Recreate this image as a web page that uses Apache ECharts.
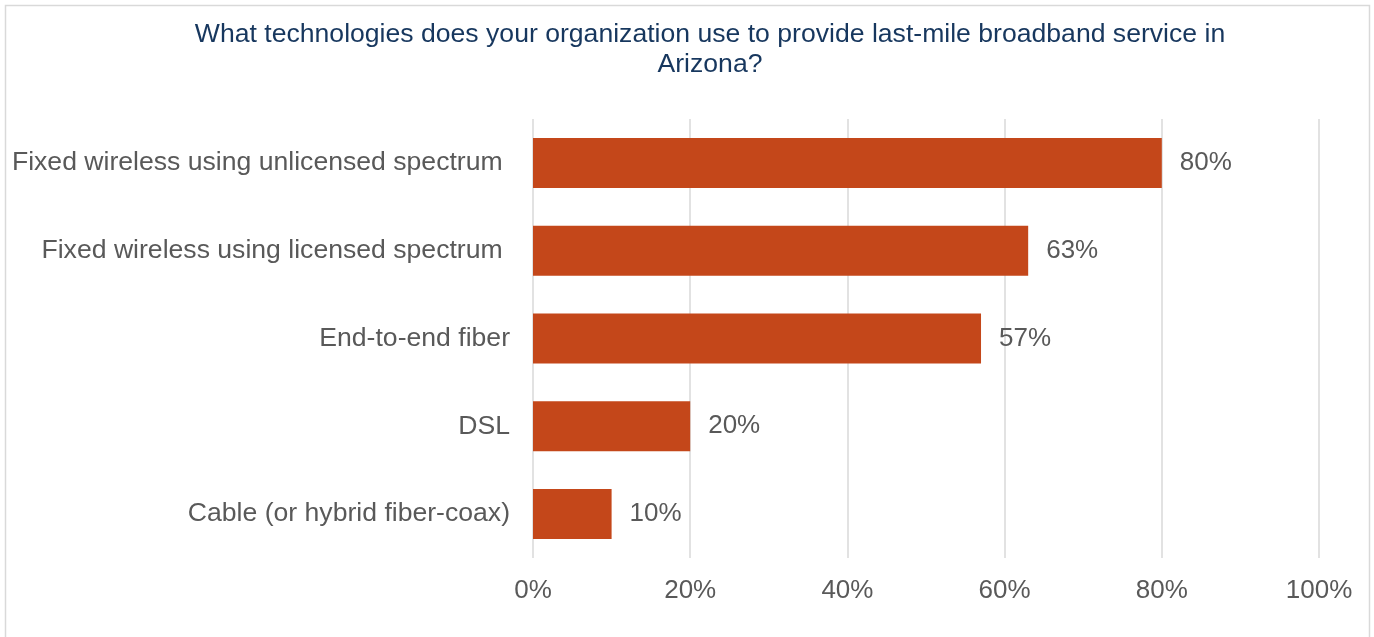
<!DOCTYPE html>
<html>
<head>
<meta charset="utf-8">
<style>
  html, body { margin: 0; padding: 0; background: #ffffff; }
  #chart { width: 1374px; height: 637px; }
</style>
<script src="https://cdn.jsdelivr.net/npm/echarts@6/dist/echarts.min.js"></script>
</head>
<body>
<div id="chart"></div>
<script>
// Technologies, listed bottom-to-top as the category axis draws them
const categories = [
  'Cable (or hybrid fiber-coax)',
  'DSL',
  'End-to-end fiber',
  'Fixed wireless using licensed spectrum ',
  'Fixed wireless using unlicensed spectrum '
];
// Share of respondents using each technology (%)
const shares = [10, 20, 57, 63, 80];
// Value axis ticks (%)
const tickValues = [0, 20, 40, 60, 80, 100];

const titleText = 'What technologies does your organization use to provide last-mile broadband service in\nArizona?';
const FONT = '"Liberation Sans", Arial, sans-serif';
const GREY = '#595959';
const FS = 26;
const FS_TEXT = 26.6;

const chart = echarts.init(document.getElementById('chart'), null, { renderer: 'canvas' });

chart.setOption({
  animation: false,
  backgroundColor: '#ffffff',
  textStyle: { fontFamily: FONT },
  title: {
    text: titleText,
    left: 710,
    textAlign: 'center',
    top: 20,
    padding: 0,
    textStyle: {
      fontFamily: FONT,
      fontSize: FS_TEXT,
      fontWeight: 'normal',
      color: '#17375e',
      lineHeight: 30
    }
  },
  graphic: [{
    type: 'rect',
    shape: { x: 5.5, y: 5.5, width: 1364, height: 700 },
    style: { fill: 'none', stroke: '#d9d9d9', lineWidth: 1.5 },
    silent: true,
    z: -1
  }],
  grid: { left: 533, right: 55, top: 119, bottom: 79 },
  xAxis: {
    type: 'value',
    min: tickValues[0],
    max: tickValues[tickValues.length - 1],
    interval: tickValues[1] - tickValues[0],
    axisLine: { show: false },
    axisTick: { show: false },
    axisLabel: {
      formatter: v => v + '%',
      fontSize: FS,
      color: GREY,
      margin: 20,
      fontFamily: FONT
    },
    splitLine: { show: true, lineStyle: { color: '#d9d9d9', width: 1.5 } }
  },
  yAxis: {
    type: 'category',
    data: categories,
    axisLine: { show: false },
    axisTick: { show: false },
    axisLabel: {
      fontSize: FS_TEXT,
      color: GREY,
      margin: 23,
      fontFamily: FONT
    }
  },
  series: [{
    type: 'bar',
    data: shares,
    barWidth: '57%',
    itemStyle: { color: '#c4471a' },
    label: {
      show: true,
      position: 'right',
      distance: 18,
      formatter: p => p.value + '%',
      fontSize: FS,
      color: GREY,
      fontFamily: FONT
    }
  }]
});
</script>
</body>
</html>
